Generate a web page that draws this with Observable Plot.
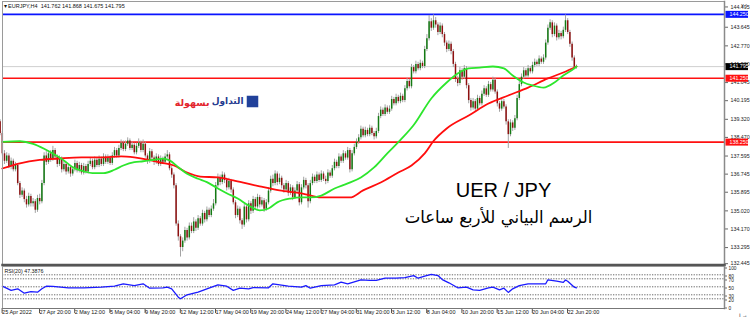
<!DOCTYPE html>
<html><head><meta charset="utf-8">
<script src="https://cdn.jsdelivr.net/npm/d3@7"></script>
<script src="https://cdn.jsdelivr.net/npm/@observablehq/plot@0.6"></script>
<style>
html,body{margin:0;padding:0;background:#fff;}
#chart{position:relative;width:750px;height:319px;overflow:hidden;background:#fff;}
#chart svg{position:absolute;left:0;top:0;}
</style></head><body><div id="chart"></div>
<script>
// ---------- DATA ----------
const symbolInfo = "▾ EURJPY,H4  141.762 141.868 141.675 141.795";
const rsiInfo = "RSI(20) 47.3876";
const titleLatin = "UER / JPY";
const titleArabic = "الرسم البياني للأربع ساعات";
const logoBlue = "التداول";
const logoRed = "بسهولة";

const firstOpen = 139.20;
const closes = [
138.65,137.70,137.35,137.60,137.10,137.35,136.95,137.15,136.30,135.75,
135.95,135.55,135.30,135.70,135.35,135.45,135.05,135.60,135.45,136.30,
137.60,137.30,137.70,137.45,137.85,137.55,137.20,137.45,136.95,137.20,
136.85,137.05,136.75,136.95,137.25,136.90,137.15,136.80,137.10,136.85,
137.20,137.35,137.05,137.40,137.15,137.45,137.20,137.55,137.30,137.50,
137.25,137.60,137.85,137.60,137.95,138.20,137.90,138.15,138.30,137.95,
138.10,137.75,138.05,138.20,137.85,138.15,137.60,137.35,137.80,137.50,
137.30,137.55,137.20,137.45,137.30,137.55,137.65,137.00,136.70,136.20,
134.40,133.80,133.30,133.60,134.10,133.75,134.30,134.05,134.50,134.20,
134.65,134.40,134.90,134.60,135.05,134.80,135.10,135.35,136.20,136.55,
136.35,136.70,136.45,136.10,136.40,136.00,135.40,134.80,135.10,134.55,
134.35,135.20,134.60,135.35,135.00,135.55,135.20,135.65,135.30,135.50,
135.10,135.40,135.95,136.50,136.30,136.75,136.35,136.55,136.20,136.00,
136.30,135.85,136.10,135.65,135.95,136.25,135.40,136.10,136.45,136.20,
135.45,136.30,136.60,136.40,136.70,136.45,136.75,136.50,136.40,136.80,
136.65,137.00,137.30,137.10,137.55,137.35,137.70,137.50,137.85,136.95,
137.70,138.00,138.25,138.45,138.85,138.55,138.80,138.60,138.90,138.65,
138.50,138.75,139.45,139.75,139.55,139.85,139.65,139.80,140.25,140.05,
140.35,140.15,140.40,140.20,140.75,141.10,140.85,141.75,141.55,141.90,
141.70,141.95,141.80,142.60,143.10,143.90,143.60,143.95,143.75,143.40,
143.70,143.30,142.90,142.60,142.85,142.50,141.90,141.20,141.00,141.60,
141.30,141.70,140.90,140.20,139.85,140.15,139.80,140.30,140.05,140.50,
140.75,140.45,140.95,140.70,141.15,140.60,140.05,139.80,140.15,139.90,
139.20,138.60,139.15,138.90,139.35,140.30,140.95,141.30,141.60,141.35,
141.70,141.55,141.85,142.00,141.90,142.15,142.00,142.20,142.90,143.60,
143.85,143.30,143.70,143.15,143.35,143.20,143.50,143.95,143.40,142.85,
142.20,141.762,141.795];
const highs = [
139.30,138.75,137.85,137.75,137.70,137.50,137.45,137.30,137.25,136.40,
136.10,136.05,135.70,135.85,135.80,135.60,135.55,135.75,135.80,136.45,
137.75,137.80,137.85,137.85,138.05,137.95,137.65,137.60,137.55,137.35,
137.30,137.20,137.15,137.10,137.40,137.35,137.30,137.25,137.25,137.20,
137.35,137.50,137.45,137.55,137.50,137.60,137.55,137.70,137.65,137.65,
137.60,137.75,138.00,137.95,138.10,138.35,138.30,138.30,138.45,138.40,
138.25,138.20,138.20,138.40,138.30,138.35,138.25,137.70,137.95,137.90,
137.60,137.70,137.65,137.60,137.55,137.70,137.85,137.75,137.10,136.80,
136.30,134.55,133.90,133.75,134.25,134.20,134.45,134.45,134.70,134.60,
134.80,134.75,135.05,135.00,135.20,135.15,135.25,135.55,136.35,136.75,
136.70,136.85,136.80,136.55,136.55,136.50,136.10,135.50,135.25,135.20,
134.65,135.35,135.30,135.50,135.45,135.70,135.65,135.80,135.75,135.65,
135.60,135.55,136.10,136.65,136.70,136.90,136.85,136.75,136.65,136.30,
136.45,136.40,136.25,136.20,136.10,136.40,136.35,136.25,136.60,136.55,
136.30,136.45,136.75,136.70,136.85,136.80,136.90,136.85,136.65,136.95,
136.90,137.15,137.45,137.40,137.70,137.65,137.85,137.80,138.00,137.95,
137.85,138.15,138.40,138.60,139.00,138.95,138.95,138.90,139.05,139.00,
138.75,138.90,139.60,139.90,139.85,140.00,139.95,139.95,140.40,140.35,
140.50,140.45,140.55,140.50,140.90,141.25,141.20,141.90,141.85,142.05,
142.00,142.10,142.05,142.75,143.30,144.20,144.05,144.22,144.10,143.85,
143.85,143.80,143.40,143.00,143.00,142.95,142.60,142.00,141.35,141.75,
141.70,141.85,141.80,141.00,140.30,140.30,140.25,140.45,140.40,140.65,
140.90,140.85,141.10,141.05,141.30,141.25,140.70,140.15,140.30,140.25,
140.00,139.30,139.30,139.25,139.50,140.45,141.10,141.45,141.75,141.70,
141.85,141.80,142.00,142.15,142.10,142.30,142.25,142.35,143.05,143.75,
144.00,143.95,143.85,143.80,143.50,143.45,143.65,144.22,144.05,143.50,
142.95,142.30,141.868];
const lows = [
138.55,137.60,137.20,137.25,137.00,136.95,136.85,136.85,136.20,135.60,
135.65,135.40,135.15,135.20,135.20,135.20,134.90,134.95,135.30,135.35,
136.20,137.15,137.20,137.30,137.35,137.40,137.05,137.10,136.80,136.85,
136.70,136.75,136.60,136.65,136.85,136.80,136.80,136.70,136.70,136.75,
136.75,137.10,136.95,136.95,137.05,137.05,137.10,137.10,137.20,137.20,
137.15,137.15,137.50,137.50,137.50,137.85,137.80,137.80,138.05,137.85,
137.85,137.65,137.65,137.95,137.75,137.75,137.50,137.20,137.25,137.40,
137.15,137.20,137.10,137.10,137.20,137.20,137.45,136.90,136.55,136.05,
134.30,133.60,132.85,133.10,133.50,133.60,133.65,133.95,133.95,134.05,
134.10,134.30,134.30,134.45,134.50,134.70,134.70,135.00,135.25,136.10,
136.20,136.25,136.30,135.95,136.00,135.85,135.30,134.65,134.70,134.40,
134.15,134.25,134.45,134.50,134.85,134.90,135.05,135.10,135.15,135.20,
134.95,135.00,135.30,135.85,136.15,136.20,136.20,136.25,136.05,135.85,
135.90,135.70,135.75,135.50,135.55,135.85,135.25,135.30,136.00,136.05,
135.15,135.35,136.20,136.30,136.30,136.35,136.35,136.40,136.25,136.30,
136.55,136.55,136.90,137.00,137.00,137.25,137.25,137.40,137.40,136.80,
136.85,137.60,137.90,138.15,138.35,138.45,138.45,138.50,138.50,138.55,
138.35,138.40,138.65,139.35,139.45,139.45,139.55,139.55,139.70,139.95,
139.95,140.05,140.05,140.10,140.10,140.65,140.75,140.75,141.45,141.45,
141.60,141.60,141.70,141.70,142.50,143.00,143.45,143.50,143.60,143.25,
143.30,143.15,142.75,142.45,142.50,142.35,141.75,141.05,140.85,140.90,
141.15,141.20,140.75,140.05,139.70,139.75,139.65,139.70,139.95,139.95,
140.40,140.35,140.35,140.60,140.60,140.50,139.90,139.65,139.70,139.80,
139.05,137.95,138.50,138.75,138.80,139.25,140.20,140.85,141.20,141.25,
141.25,141.45,141.45,141.75,141.80,141.80,141.90,141.90,142.10,142.80,
143.50,143.15,143.20,143.00,143.05,143.05,143.10,143.40,143.30,142.70,
142.05,141.65,141.675];

const greenMABars = [1,9,15,20,24,29,33,38,42,47,52,56,61,65,70,74,77,81,85,90,94,99,103,108,113,118,122,126,132,137,141,146,152,158,164,170,176,182,188,196,203,208,213,218,224,229,233,238,242,247,252,256,261,262];
const greenMAValues = [138.26,138.29,138.17,137.94,137.71,137.39,137.07,136.88,136.79,136.79,136.95,137.15,137.31,137.35,137.42,137.47,137.39,137.07,136.76,136.53,136.37,136.07,135.85,135.60,135.27,135.04,135.13,135.42,135.60,135.65,135.65,135.74,136.07,136.31,136.59,137.06,137.72,138.35,139.05,140.30,141.05,141.47,141.71,141.75,141.80,141.71,141.38,141.05,140.91,140.81,141.05,141.38,141.71,141.80];
const redMABars = [1,9,18,27,37,46,55,61,67,73,79,85,91,99,106,114,118,127,137,146,153,159,165,173,181,187,193,197,203,213,222,231,240,249,256,262];
const redMAValues = [137.01,137.25,137.41,137.48,137.53,137.53,137.58,137.53,137.43,137.29,137.15,136.82,136.63,136.59,136.45,136.26,136.17,135.98,135.84,135.65,135.65,135.65,135.98,136.35,136.82,137.15,137.72,138.30,138.89,139.50,140.06,140.44,140.81,141.24,141.52,141.80];

const rsiBars = [1,5,8,11,14,17,19,21,24,31,38,46,52,56,61,65,68,74,76,78,81,82,85,90,94,99,103,106,109,113,115,122,124,131,137,139,141,146,152,155,158,164,168,171,175,180,184,188,190,193,196,199,201,204,208,212,215,218,222,224,227,229,231,233,236,240,248,249,253,256,257,258,261,262];
const rsiValues = [51.5,41,45,34,38,36.5,45,51.5,51,47.5,47.5,49,51.5,57.5,53,57.5,46.5,47.5,49,45,24,20,30,36.5,45,55,51.5,41,46.5,45,48,47.5,57.5,51.5,49,53,46.5,53,55,61.5,57.5,67.5,66,66,71.5,71.5,73,78,71.5,76.5,81,78,68,60,47.5,49,42.5,41,47.5,49,42.5,46.5,36,45,53,57.5,57.5,67.5,64,61,67,64,49,47.39];

const blueLevels = [144.250];
const redLevels = [141.250, 138.250];
const lastPrice = [141.795];
const priceTicks = [144.495,143.645,142.770,141.920,141.045,140.195,139.320,138.470,137.595,136.745,135.895,135.020,134.170,133.295,132.445];
const rsiLevels = [80,70,50,30,20];
const rsiTicks = [100,80,70,50,30,20,0];
const dateTickBars = [0,17,33,49,65,81,97,113,129,145,161,177,193,209,225,241,257];
const dateTickLabels = ["25 Apr 2022","27 Apr 20:00","2 May 12:00","5 May 04:00","9 May 20:00","12 May 12:00","17 May 04:00","19 May 20:00","24 May 12:00","27 May 04:00","31 May 20:00","3 Jun 12:00","8 Jun 04:00","10 Jun 20:00","15 Jun 12:00","20 Jun 04:00","22 Jun 20:00"];

// ---------- TABLES ----------
const candles = closes.map((c, i) => ({i, o: i === 0 ? firstOpen : closes[i-1], h: highs[i], l: lows[i], c}));
const greenMA = greenMABars.map((b, k) => ({i: b, v: greenMAValues[k]}));
const redMA = redMABars.map((b, k) => ({i: b, v: redMAValues[k]}));
const rsi = rsiBars.map((b, k) => ({i: b, v: rsiValues[k]}));
const dateLabel = new Map(dateTickBars.map((b, k) => [b, dateTickLabels[k]]));

// ---------- LAYOUT ----------
const W = 750, H = 319;
const xScale = {type: "linear", domain: [0, 262], range: [-0.4, -0.4 + 262 * 2.2], axis: null};
const yMain = {type: "linear", domain: [132.43, 144.76], range: [265.5, 3], axis: null};
const small = "Liberation Sans, Arial, sans-serif";
const baseStyle = {background: "transparent", fontFamily: small, color: "#000"};
const priceAxisStyle = {anchor: "right", tickSize: 3, tickPadding: 3, tickFormat: d => d.toFixed(3), fontSize: 5.3, fill: "#222", stroke: "#666"};

const main = Plot.plot({
  width: W, height: H, marginLeft: 2, marginRight: 26, marginTop: 1, marginBottom: 54.5,
  x: xScale, y: yMain, style: baseStyle,
  marks: [
    Plot.ruleY(lastPrice, {stroke: "#cfcfcf", strokeWidth: 1}),
    Plot.ruleY(blueLevels, {stroke: "#0a14ff", strokeWidth: 1.6}),
    Plot.ruleY(redLevels, {stroke: "#ff1010", strokeWidth: 1.6}),
    Plot.ruleX(candles, {x: "i", y1: "l", y2: "h", stroke: "#a3a3a3", strokeWidth: 1}),
    Plot.ruleX(candles, {x: "i", y1: "o", y2: "c", stroke: d => d.c >= d.o ? "#137a13" : "#8e1010", strokeWidth: 1.5}),
    Plot.line(redMA, {x: "i", y: "v", stroke: "#ff0d0d", strokeWidth: 1.8, curve: "monotone-x"}),
    Plot.line(greenMA, {x: "i", y: "v", stroke: "#2de62d", strokeWidth: 1.8, curve: "monotone-x"}),
    Plot.axisY(priceTicks.slice(1, -1), priceAxisStyle),
    Plot.axisY(priceTicks.slice(0, 1), {...priceAxisStyle, dy: -2.2}),
    Plot.axisY(priceTicks.slice(-1), {...priceAxisStyle, dy: -2}),
    Plot.frame({stroke: "#9a9a9a", strokeWidth: 1}),
    Plot.frame({anchor: "right", stroke: "#8a8a8a", strokeWidth: 1.5}),
    Plot.frame({anchor: "bottom", stroke: "#555", strokeWidth: 2.5}),
    Plot.text([symbolInfo], {frameAnchor: "top-left", dx: 1, dy: 5, textAnchor: "start", lineAnchor: "middle", fontSize: 5.5, fill: "#111"}),
    Plot.dot([0], {frameAnchor: "top-left", dx: 250, dy: 100, r: 6.5, symbol: "square", fill: "#21419a"}),
    Plot.text([logoBlue], {frameAnchor: "top-left", dx: 241, dy: 100, textAnchor: "end", lineAnchor: "middle", fontSize: 9, fontWeight: "bold", fontFamily: "DejaVu Sans", fill: "#1f3a8f"}),
    Plot.text([logoRed], {frameAnchor: "top-left", dx: 207, dy: 101, textAnchor: "end", lineAnchor: "middle", fontSize: 9.5, fontWeight: "bold", fontFamily: "DejaVu Sans", fill: "#e3262d"}),
    Plot.text([titleLatin], {frameAnchor: "top-left", dx: 501, dy: 189.5, textAnchor: "middle", lineAnchor: "middle", fontSize: 20, fontFamily: "Liberation Sans, Arial", fill: "#000"}),
    Plot.text([titleArabic], {frameAnchor: "top-left", dx: 496, dy: 216, textAnchor: "middle", lineAnchor: "middle", fontSize: 16.5, fontFamily: "DejaVu Sans", fill: "#000"})
  ]
});

const rsiPlot = Plot.plot({
  width: W, height: H, marginLeft: 2, marginRight: 26, marginTop: 266, marginBottom: 11,
  x: xScale, y: {type: "linear", domain: [0, 100], range: [306.3, 266.3], axis: null}, style: baseStyle,
  marks: [
    Plot.ruleY(rsiLevels, {stroke: "#444", strokeWidth: 0.8, strokeDasharray: "1.3,1.3"}),
    Plot.line(rsi, {x: "i", y: "v", stroke: "#1a1aff", strokeWidth: 1.3}),
    Plot.axisY(rsiTicks, {anchor: "right", tickSize: 2, tickPadding: 2, dy: 1.2, fontSize: 4.8, fill: "#222", stroke: "#666"}),
    Plot.axisX(dateTickBars, {anchor: "bottom", tickSize: 5, tickPadding: -3.5, textAnchor: "start", dx: 2, tickFormat: d => dateLabel.get(d), fontSize: 5.5, fill: "#111", stroke: "#555"}),
    Plot.frame({stroke: "#9a9a9a", strokeWidth: 1}),
    Plot.frame({anchor: "right", stroke: "#8a8a8a", strokeWidth: 1.5}),
    Plot.frame({anchor: "bottom", stroke: "#777", strokeWidth: 1}),
    Plot.text([rsiInfo], {frameAnchor: "top-left", dx: 2, dy: 4.5, textAnchor: "start", lineAnchor: "middle", fontSize: 5.3, fill: "#111"})
  ]
});

const labelBoxes = Plot.plot({
  width: W, height: H, marginLeft: 725.5, marginRight: 2, marginTop: 1, marginBottom: 54.5,
  y: yMain, style: baseStyle,
  marks: [
    Plot.ruleY(blueLevels, {stroke: "#0a14ff", strokeWidth: 7}),
    Plot.ruleY(lastPrice, {stroke: "#000", strokeWidth: 7}),
    Plot.ruleY(redLevels, {stroke: "#ff1010", strokeWidth: 7}),
    Plot.text([...blueLevels, ...lastPrice, ...redLevels], {y: d => d, text: d => d.toFixed(3), frameAnchor: "left", dx: 3.5, textAnchor: "start", lineAnchor: "middle", fontSize: 5.3, fill: "#fff"})
  ]
});

const el = document.getElementById("chart");
el.append(main, rsiPlot, labelBoxes);
</script></body></html>
